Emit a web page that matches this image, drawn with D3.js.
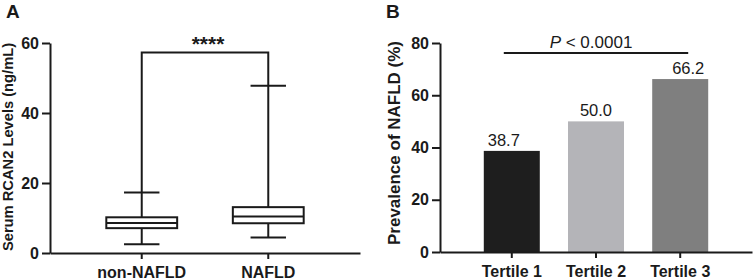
<!DOCTYPE html>
<html>
<head>
<meta charset="utf-8">
<script src="https://cdn.jsdelivr.net/npm/d3@7"></script>
<style>
  body { margin: 0; background: #fff; }
  svg { display: block; font-family: "Liberation Sans", Arial, sans-serif; }
  .axis path, .axis line { stroke: #1a1a1a; stroke-width: 2px; }
  .axis text { font-size: 16px; font-weight: bold; fill: #1a1a1a; }
</style>
</head>
<body>
<svg id="chart"></svg>
<script>
// Panel A - box plot data (ng/mL)
var groups = ["non-NAFLD", "NAFLD"];
var boxMin = [2.5, 4.4];
var boxQ1 = [7.1, 8.5];
var boxMedian = [8.6, 10.4];
var boxQ3 = [10.2, 13.1];
var boxMax = [17.3, 47.8];
var ticksA = [0, 20, 40, 60];
var bracketA = 57.3;
var sigA = "****";

// Panel B - prevalence bars (%)
var tertiles = ["Tertile 1", "Tertile 2", "Tertile 3"];
var prevalence = [38.7, 50.0, 66.2];
var barColors = ["#1e1e1e", "#b4b4b8", "#7f7f7f"];
var ticksB = [0, 20, 40, 60, 80];

var svg = d3.select("#chart")
  .attr("width", 754)
  .attr("height", 280);

// ---------- Panel A ----------
var xA = d3.scaleBand()
  .domain(groups)
  .range([50, 360])
  .paddingInner(0.44)
  .paddingOuter(0.445);

var yA = d3.scaleLinear()
  .domain([0, 60])
  .range([253, 43]);

var gA = svg.append("g");

var boxes = groups.map(function (g, i) {
  return { name: g, min: boxMin[i], q1: boxQ1[i], med: boxMedian[i], q3: boxQ3[i], max: boxMax[i] };
});

// whiskers, boxes and medians
boxes.forEach(function (d) {
  var cx = xA(d.name) + xA.bandwidth() / 2;
  var capW = xA.bandwidth() / 2;
  gA.append("line")
    .attr("x1", cx).attr("x2", cx)
    .attr("y1", yA(d.min)).attr("y2", yA(d.max))
    .attr("stroke", "#1a1a1a").attr("stroke-width", 2);
  [d.min, d.max].forEach(function (v) {
    gA.append("line")
      .attr("x1", cx - capW / 2).attr("x2", cx + capW / 2)
      .attr("y1", yA(v)).attr("y2", yA(v))
      .attr("stroke", "#1a1a1a").attr("stroke-width", 2);
  });
  gA.append("rect")
    .attr("x", xA(d.name))
    .attr("y", yA(d.q3))
    .attr("width", xA.bandwidth())
    .attr("height", yA(d.q1) - yA(d.q3))
    .attr("fill", "#fff")
    .attr("stroke", "#1a1a1a").attr("stroke-width", 2);
  gA.append("line")
    .attr("x1", xA(d.name)).attr("x2", xA(d.name) + xA.bandwidth())
    .attr("y1", yA(d.med)).attr("y2", yA(d.med))
    .attr("stroke", "#1a1a1a").attr("stroke-width", 2);
});

// significance bracket
var c0 = xA(groups[0]) + xA.bandwidth() / 2;
var c1 = xA(groups[1]) + xA.bandwidth() / 2;
gA.append("path")
  .attr("d", "M" + c0 + "," + yA(boxMax[0]) + "V" + yA(bracketA) + "H" + c1 + "V" + yA(boxMax[1]))
  .attr("fill", "none")
  .attr("stroke", "#1a1a1a").attr("stroke-width", 2);
gA.append("text")
  .attr("x", (c0 + c1) / 2 + 3)
  .attr("y", yA(bracketA) - 1)
  .attr("text-anchor", "middle")
  .style("font-size", "21px")
  .style("font-weight", "bold")
  .attr("fill", "#1a1a1a")
  .text(sigA);

// axes
gA.append("g")
  .attr("class", "axis")
  .attr("transform", "translate(50,0)")
  .call(d3.axisLeft(yA).tickValues(ticksA).tickSize(8).tickSizeOuter(0).tickPadding(3));

gA.append("g")
  .attr("class", "axis")
  .attr("transform", "translate(0," + yA(0) + ")")
  .call(d3.axisBottom(xA).tickSize(6).tickSizeOuter(0).tickPadding(8));

gA.append("text")
  .attr("transform", "translate(13,147) rotate(-90)")
  .attr("text-anchor", "middle")
  .style("font-size", "14.7px")
  .style("font-weight", "bold")
  .attr("fill", "#1a1a1a")
  .text("Serum RCAN2 Levels (ng/mL)");

gA.append("text")
  .attr("x", 6).attr("y", 18)
  .style("font-size", "19px")
  .style("font-weight", "bold")
  .attr("fill", "#1a1a1a")
  .text("A");

// ---------- Panel B ----------
var xB = d3.scaleBand()
  .domain(tertiles)
  .range([440, 752])
  .paddingInner(0.335)
  .paddingOuter(0.52);

var yB = d3.scaleLinear()
  .domain([0, 80])
  .range([252, 43]);

var gB = svg.append("g");

gB.selectAll(".bar")
  .data(tertiles)
  .enter()
  .append("rect")
  .attr("class", "bar")
  .attr("x", function (d) { return xB(d); })
  .attr("y", function (d, i) { return yB(prevalence[i]); })
  .attr("width", xB.bandwidth())
  .attr("height", function (d, i) { return yB(0) - yB(prevalence[i]); })
  .attr("fill", function (d, i) { return barColors[i]; });

var labelShift = [-8, 0, 8];
gB.selectAll(".bar-value")
  .data(tertiles)
  .enter()
  .append("text")
  .attr("class", "bar-value")
  .attr("x", function (d, i) { return xB(d) + xB.bandwidth() / 2 + labelShift[i]; })
  .attr("y", function (d, i) { return yB(prevalence[i]) - 5; })
  .attr("text-anchor", "middle")
  .style("font-size", "16.5px")
  .attr("fill", "#1a1a1a")
  .text(function (d, i) { return prevalence[i].toFixed(1); });

// P-value line
var p0 = xB(tertiles[0]) + 20;
var p1 = xB(tertiles[2]) + 36;
gB.append("line")
  .attr("x1", p0).attr("x2", p1)
  .attr("y1", 53).attr("y2", 53)
  .attr("stroke", "#1a1a1a").attr("stroke-width", 2);
var pText = gB.append("text")
  .attr("x", (p0 + p1) / 2 - 5)
  .attr("y", 48)
  .attr("text-anchor", "middle")
  .style("font-size", "17px")
  .attr("fill", "#1a1a1a");
pText.append("tspan").style("font-style", "italic").text("P");
pText.append("tspan").text(" < 0.0001");

gB.append("g")
  .attr("class", "axis")
  .attr("transform", "translate(440,0)")
  .call(d3.axisLeft(yB).tickValues(ticksB).tickSize(8).tickSizeOuter(0).tickPadding(3));

gB.append("g")
  .attr("class", "axis")
  .attr("transform", "translate(0," + yB(0) + ")")
  .call(d3.axisBottom(xB).tickSize(6).tickSizeOuter(0).tickPadding(8));

gB.append("text")
  .attr("transform", "translate(400,143) rotate(-90)")
  .attr("text-anchor", "middle")
  .style("font-size", "17px")
  .style("font-weight", "bold")
  .attr("fill", "#1a1a1a")
  .text("Prevalence of NAFLD (%)");

gB.append("text")
  .attr("x", 386).attr("y", 18)
  .style("font-size", "19px")
  .style("font-weight", "bold")
  .attr("fill", "#1a1a1a")
  .text("B");
</script>
</body>
</html>
